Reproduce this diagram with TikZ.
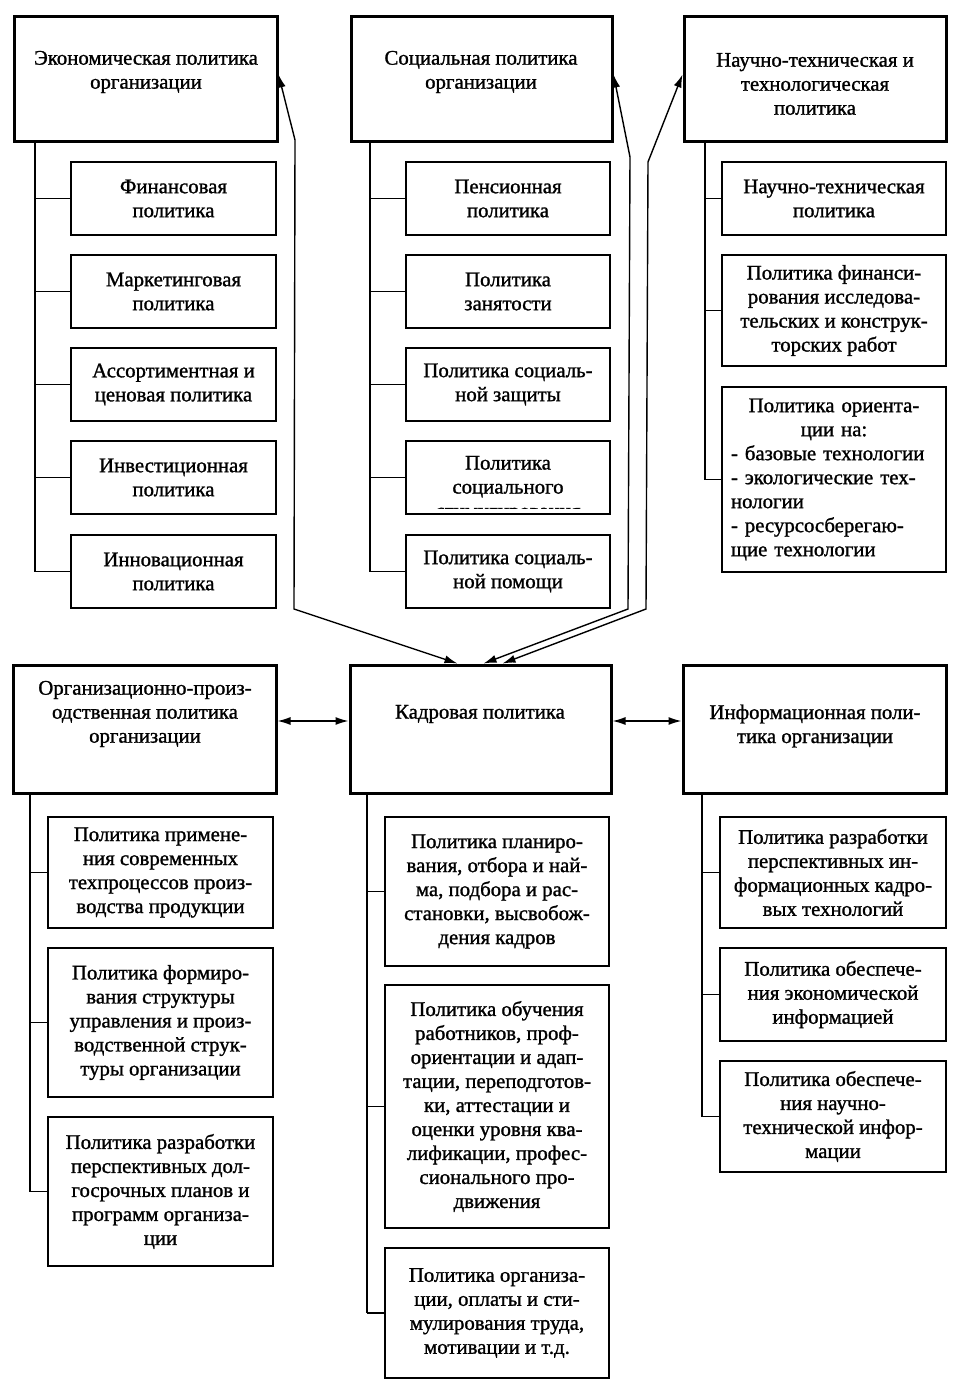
\documentclass[tikz,border=0pt]{standalone}
\usepackage{fontspec}
\setmainfont{Liberation Serif}[BoldFont={Liberation Serif},BoldFeatures={FakeBold=1.2}]
\usetikzlibrary{arrows.meta,calc}
\newcommand\pbx[7]{\node[#1, minimum width={(#5-#3)*1pt}, minimum height={(#6-#4)*1pt}] (#2) at ({(#3+#5)/2},{(#4+#6)/2}) {#7};}
\tikzset{
  txtfont/.style={font=\fontsize{20.8}{24}\selectfont\bfseries},
  bigbox/.style={draw, line width=3pt, inner sep=0pt},
  subbox/.style={draw, line width=1.8pt, inner sep=0pt, align=center, txtfont},
  txt/.style={align=center, inner sep=0pt, txtfont},
  trunk/.style={line width=1.8pt},
  conn/.style={line width=1.4pt, {Latex[length=13pt,width=8pt]}-{Latex[length=13pt,width=8pt]}},
}
\begin{document}
\begin{tikzpicture}[x=1pt,y=-1pt]
\useasboundingbox (0,0) rectangle (967,1382);
% ---------- top row ----------
\pbx{bigbox}{econ}{14}{16}{277}{141}{}
\pbx{bigbox}{soc}{351}{16}{612}{141}{}
\pbx{bigbox}{nt}{684}{16}{946}{141}{}
\node[txt] (econT) at (146,72) {Экономическая политика\\организации};
\node[txt] (socT) at (481,72) {Социальная политика\\организации};
\node[txt] (ntT) at (815,84) {Научно-техническая и\\технологическая\\политика};
% left column
\pbx{subbox}{fin}{71}{162}{276}{235}{Финансовая\\политика}
\pbx{subbox}{mark}{71}{255}{276}{328}{Маркетинговая\\политика}
\pbx{subbox}{assort}{71}{348}{276}{421}{Ассортиментная и\\ценовая политика}
\pbx{subbox}{invest}{71}{441}{276}{514}{Инвестиционная\\политика}
\pbx{subbox}{innov}{71}{535}{276}{608}{Инновационная\\политика}
% middle column
\pbx{subbox}{pens}{406}{162}{610}{235}{Пенсионная\\политика}
\pbx{subbox}{zan}{406}{255}{610}{328}{Политика\\занятости}
\pbx{subbox}{szash}{406}{348}{610}{421}{Политика социаль-\\ной защиты}
\begin{scope}
\clip (407,442) rectangle (609,508);
\node[txt] (stimT) at (508,489) {Политика\\социального\\стимулирования};
\end{scope}
\pbx{subbox}{stim}{406}{441}{610}{514}{}
\pbx{subbox}{pom}{406}{535}{610}{608}{Политика социаль-\\ной помощи}
% right column
\pbx{subbox}{ntp}{722}{162}{946}{235}{Научно-техническая\\политика}
\pbx{subbox}{finis}{722}{255}{946}{366}{Политика финанси-\\рования исследова-\\тельских и конструк-\\торских работ}
\node[subbox, minimum width=224pt, minimum height=185pt, text width=206pt, align=left] (orient) at (834,479.5)
  {\centering Политика ориента-\\ции на:\par\raggedright - базовые технологии\\- экологические тех-\\нологии\\- ресурсосберегаю-\\щие технологии\par};
% trunks top
\coordinate (tA) at (35,0);
\coordinate (tB) at (370,0);
\coordinate (tC) at (705,0);
\draw[trunk] (econ.south -| tA) -- (innov.west -| tA);
\foreach \n in {fin,mark,assort,invest,innov} \draw[trunk] (\n.west -| tA) -- (\n.west);
\draw[trunk] (soc.south -| tB) -- (pom.west -| tB);
\foreach \n in {pens,zan,szash,stim,pom} \draw[trunk] (\n.west -| tB) -- (\n.west);
\draw[trunk] (nt.south -| tC) -- (orient.west -| tC);
\foreach \n in {ntp,finis,orient} \draw[trunk] (\n.west -| tC) -- (\n.west);
% ---------- middle row ----------
\pbx{bigbox}{org}{13}{665}{276}{793}{}
\pbx{bigbox}{kadr}{350}{665}{611}{793}{}
\pbx{bigbox}{info}{683}{665}{946}{793}{}
\node[txt] (orgT) at (145,714) {Организационно-произ-\\одственная политика\\организации};
\node[txt] (kadrT) at (480,714) {Кадровая политика};
\node[txt] (infoT) at (815,726) {Информационная поли-\\тика организации};
\coordinate (yA) at (0,721);
\draw[conn] (org.east |- yA) -- (kadr.west |- yA);
\draw[conn] (kadr.east |- yA) -- (info.west |- yA);
% connectors to top boxes
\draw[conn] ($(kadr.north)+(-23,0)$) -- (294,609) -- (295,140) -- ($(econ.east)+(0,-4)$);
\draw[conn] ($(kadr.north)+(3,0)$) -- (628,609) -- (630,157) -- ($(soc.east)+(0,-4)$);
\draw[conn] ($(kadr.north)+(22,0)$) -- (646,609) -- (648,162) -- ($(nt.west)+(0,-4)$);
% ---------- bottom ----------
\pbx{subbox}{prim}{48}{817}{273}{928}{Политика примене-\\ния современных\\техпроцессов произ-\\водства продукции}
\pbx{subbox}{form}{48}{948}{273}{1097}{Политика формиро-\\вания структуры\\управления и произ-\\водственной струк-\\туры организации}
\pbx{subbox}{razr}{48}{1117}{273}{1266}{Политика разработки\\перспективных дол-\\госрочных планов и\\программ организа-\\ции}
\pbx{subbox}{plan}{385}{817}{609}{966}{Политика планиро-\\вания, отбора и най-\\ма, подбора и рас-\\становки, высвобож-\\дения кадров}
\pbx{subbox}{obuch}{385}{985}{609}{1228}{Политика обучения\\работников, проф-\\ориентации и адап-\\тации, переподготов-\\ки, аттестации и\\оценки уровня ква-\\лификации, профес-\\сионального про-\\движения}
\pbx{subbox}{oplat}{385}{1248}{609}{1378}{Политика организа-\\ции, оплаты и сти-\\мулирования труда,\\мотивации и т.д.}
\pbx{subbox}{itech}{720}{817}{946}{928}{Политика разработки\\перспективных ин-\\формационных кадро-\\вых технологий}
\pbx{subbox}{econinf}{720}{948}{946}{1041}{Политика обеспече-\\ния экономической\\информацией}
\pbx{subbox}{ntinf}{720}{1061}{946}{1172}{Политика обеспече-\\ния научно-\\технической инфор-\\мации}
\coordinate (tD) at (30,0);
\coordinate (tE) at (367,0);
\coordinate (tF) at (702,0);
\draw[trunk] (org.south -| tD) -- (razr.west -| tD);
\foreach \n in {prim,form,razr} \draw[trunk] (\n.west -| tD) -- (\n.west);
\draw[trunk] (kadr.south -| tE) -- (oplat.west -| tE);
\foreach \n in {plan,obuch,oplat} \draw[trunk] (\n.west -| tE) -- (\n.west);
\draw[trunk] (info.south -| tF) -- (ntinf.west -| tF);
\foreach \n in {itech,econinf,ntinf} \draw[trunk] (\n.west -| tF) -- (\n.west);
\end{tikzpicture}
\end{document}
